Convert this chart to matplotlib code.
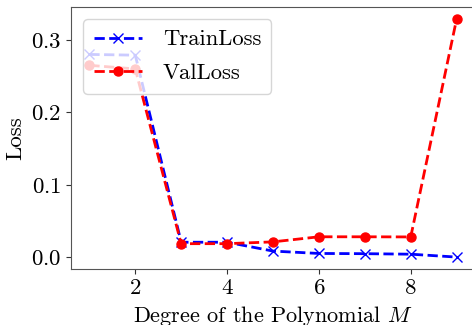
import matplotlib
matplotlib.use("Agg")
import matplotlib.pyplot as plt

# data
degrees = [1, 2, 3, 4, 5, 6, 7, 8, 9]
train_loss = [0.280, 0.279, 0.021, 0.021, 0.0088, 0.0055, 0.0052, 0.0045, 0.0005]
val_loss = [0.265, 0.260, 0.019, 0.019, 0.0215, 0.0285, 0.0285, 0.0283, 0.329]

plt.rcParams['font.family'] = 'serif'
plt.rcParams['font.serif'] = ['cmr10']
plt.rcParams['mathtext.fontset'] = 'cm'
plt.rcParams['axes.formatter.use_mathtext'] = True
plt.rcParams['axes.unicode_minus'] = False

fig = plt.figure(figsize=(4.72, 3.25), dpi=100)
ax = fig.add_axes([71/472, 1 - 269/325, 404/472, 262/325])

ax.plot(degrees, train_loss, 'x--', color='blue', linewidth=2, markersize=6.5, label='TrainLoss')
ax.plot(degrees, val_loss, 'o--', color='red', linewidth=2, markersize=6.5, label='ValLoss')

ax.set_xlabel('Degree of the Polynomial $M$', fontsize=16)
ax.set_ylabel('Loss', fontsize=16.5)
ax.set_xticks([2, 4, 6, 8])
ax.set_yticks([0.0, 0.1, 0.2, 0.3])
ax.tick_params(labelsize=16.5, colors='#333333', labelcolor='black')
for s in ax.spines.values():
    s.set_color('#555555')
ax.legend(loc='upper left', fontsize=16.3, handlelength=2.15, handletextpad=0.9,
          borderpad=0.45, labelspacing=0.62, borderaxespad=0.55)

fig.savefig('out.png', dpi=100)
